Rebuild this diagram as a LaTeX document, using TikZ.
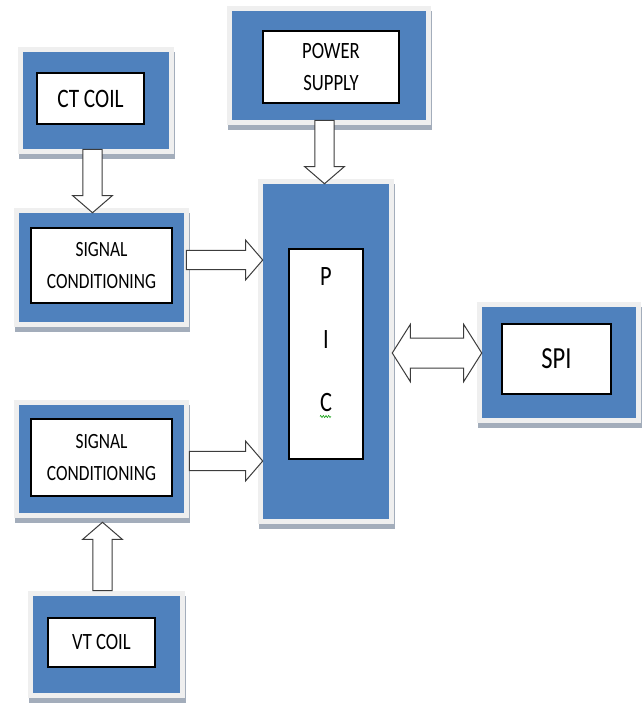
\documentclass[tikz,border=0pt]{standalone}
\usepackage{fontspec}
\usetikzlibrary{calc,decorations.pathmorphing}
\newfontfamily\boxfont[FakeStretch=0.8]{Carlito}
\definecolor{boxblue}{HTML}{4F81BD}
\definecolor{framegray}{HTML}{EFEFEF}
\definecolor{shadegray}{HTML}{A3ADBB}
\definecolor{arrowgray}{HTML}{3C3C3C}

\begin{document}
\begin{tikzpicture}[x=0.75pt, y=-0.75pt,
  outerbox/.style 2 args={rectangle, inner sep=0pt, fill=boxblue,
    minimum width=#1*0.75pt, minimum height=#2*0.75pt,
    preaction={fill=shadegray, draw=shadegray, line width=7.5pt,
      transform canvas={xshift=1.1pt, yshift=-3.8pt}},
    preaction={fill=framegray, draw=framegray, line width=7.5pt}},
  innerbox/.style 2 args={rectangle, inner sep=0pt, fill=white, draw=black,
    line width=0.8pt, align=center,
    minimum width=#1*0.75pt, minimum height=#2*0.75pt},
  blockarrow/.style={draw=arrowgray, fill=white, line width=0.75pt,
    to path={let \p1=(\tikztostart), \p2=(\tikztotarget),
      \n1={atan2(\y2-\y1,\x2-\x1)}, \n2={veclen(\x2-\x1,\y2-\y1)} in
      [shift={(\p1)}, rotate=\n1]
      (0pt,-7.3pt) -- ({\n2-12.75pt},-7.3pt) -- ({\n2-12.75pt},-14.8pt)
      -- ({\n2+0pt},0pt) -- ({\n2-12.75pt},14.8pt) -- ({\n2-12.75pt},7.3pt)
      -- (0pt,7.3pt) -- cycle}},
  dblockarrow/.style={draw=arrowgray, fill=white, line width=0.75pt,
    to path={let \p1=(\tikztostart), \p2=(\tikztotarget),
      \n1={atan2(\y2-\y1,\x2-\x1)}, \n2={veclen(\x2-\x1,\y2-\y1)} in
      [shift={(\p1)}, rotate=\n1]
      (0pt,0pt) -- (13.5pt,21.4pt) -- (13.5pt,11.25pt)
      -- ({\n2-13.5pt},11.25pt) -- ({\n2-13.5pt},21.4pt) -- ({\n2+0pt},0pt)
      -- ({\n2-13.5pt},-21.4pt) -- ({\n2-13.5pt},-11.25pt)
      -- (13.5pt,-11.25pt) -- (13.5pt,-21.4pt) -- cycle}}]

  \useasboundingbox (0,0) rectangle (643,704);

  %% blocks
  \node[outerbox={146}{97}] (ct) at (96,100.5) {};
  \node[innerbox={107}{51}, font=\boxfont\fontsize{20}{24}\selectfont] (ctin) at (90.5,98.5) {CT COIL};

  \node[outerbox={194}{109}] (ps) at (329,65.5) {};
  \node[innerbox={136}{72}, font=\boxfont\fontsize{17.5}{23.7}\selectfont] (psin) at (331,67) {POWER\\SUPPLY};

  \node[outerbox={165}{109}] (sc1) at (101.5,267.5) {};
  \node[innerbox={141}{75}, font=\boxfont\fontsize{16.3}{24}\selectfont] (sc1in) at (101.5,265.5) {SIGNAL\\CONDITIONING};

  \node[outerbox={165}{108}] (sc2) at (101.5,459) {};
  \node[innerbox={141}{77}, font=\boxfont\fontsize{16.3}{24}\selectfont] (sc2in) at (101.5,457.5) {SIGNAL\\CONDITIONING};

  \node[outerbox={147}{97}] (vt) at (106.5,644.5) {};
  \node[innerbox={107}{49}, font=\boxfont\fontsize{17.5}{24}\selectfont] (vtin) at (101.5,642.5) {VT COIL};

  \node[outerbox={126}{335}] (pic) at (326,351.5) {};
  \node[innerbox={74}{210}] (picin) at (326,354) {};
  \node[inner sep=0pt, align=center, font=\boxfont\fontsize{21}{47}\selectfont] (pictext) at (326,339.5) {P\\I\\C};
  \draw[green!60!black, line width=0.4pt, decorate,
    decoration={zigzag, segment length=2pt, amplitude=0.8pt}]
    ($(pictext.south)+(-6,5)$) -- ($(pictext.south)+(5,5)$);

  \node[outerbox={154}{111}] (spi) at (559,362.5) {};
  \node[innerbox={109}{70}, font=\boxfont\fontsize{23}{28}\selectfont] (spiin) at (556.5,359) {SPI};

  %% arrows
  \coordinate (a1) at ($(ct.south)+(-3.5,0)$);
  \draw[blockarrow] (a1) to (a1 |- sc1.north); %% CT -> SC

  \coordinate (a2) at ($(ps.south)+(-4.5,0)$);
  \draw[blockarrow] (a2) to (a2 |- pic.north); %% PS -> PIC

  \coordinate (a3) at ($(sc1.east)+(2,-7.5)$);
  \draw[blockarrow] (a3) to (a3 -| pic.west); %% SC -> PIC

  \coordinate (a4) at ($(sc2.east)+(5,2)$);
  \draw[blockarrow] (a4) to (a4 -| pic.west); %% SC -> PIC

  \coordinate (a5) at ($(vt.north)+(-4,-5)$);
  \coordinate (b5) at (a5 |- sc2.south);
  \coordinate (t5) at ($(b5)+(0,9)$);
  \draw[blockarrow] (a5) to (t5); %% VT -> SC

  \coordinate (a6) at ($(pic.east)+(3,1.5)$);
  \draw[dblockarrow] (a6) to (a6 -| spi.west); %% PIC <-> SPI
\end{tikzpicture}
\end{document}
